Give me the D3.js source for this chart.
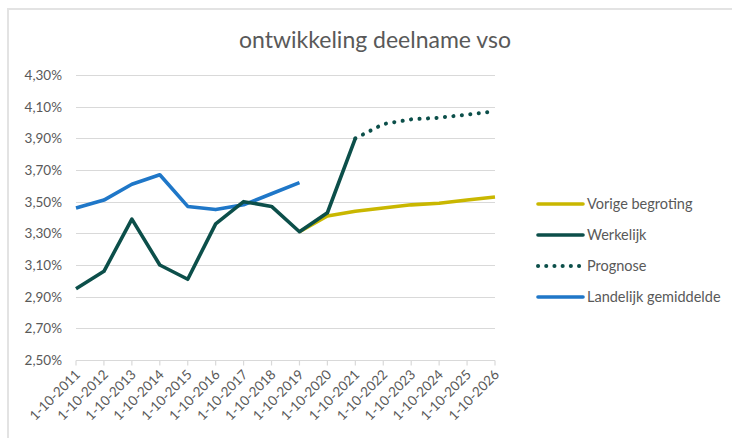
<!DOCTYPE html>
<html>
<head>
<meta charset="utf-8">
<script src="https://cdn.jsdelivr.net/npm/d3@7"></script>
<style>
  body { margin: 0; background: #fff; }
  svg { display: block; font-family: Lato, "Noto Sans", sans-serif; }
</style>
</head>
<body>
<div id="chart"></div>
<script>
// categories (peildatum)
var years = ["1-10-2011","1-10-2012","1-10-2013","1-10-2014","1-10-2015","1-10-2016","1-10-2017","1-10-2018",
             "1-10-2019","1-10-2020","1-10-2021","1-10-2022","1-10-2023","1-10-2024","1-10-2025","1-10-2026"];

// series (percentages), null = no value
var werkelijk = [2.95, 3.06, 3.39, 3.10, 3.01, 3.36, 3.50, 3.47, 3.31, 3.43, 3.90, null, null, null, null, null];
var prognose = [null, null, null, null, null, null, null, null, null, null, 3.90, 3.99, 4.02, 4.03, 4.05, 4.07];
var vorigeBegroting = [null, null, null, null, null, null, null, null, 3.31, 3.41, 3.44, 3.46, 3.48, 3.49, 3.51, 3.53];
var landelijk = [3.46, 3.51, 3.61, 3.67, 3.47, 3.45, 3.48, 3.55, 3.62, null, null, null, null, null, null, null];

var yTicks = [2.5, 2.7, 2.9, 3.1, 3.3, 3.5, 3.7, 3.9, 4.1, 4.3];

var W = 732, H = 438;
var margin = {top: 75, left: 76, right: 237, bottom: 78};

var svg = d3.select("#chart").append("svg")
    .attr("width", W)
    .attr("height", H);

// chart area border (top + left visible)
svg.append("path")
    .attr("d", "M8," + H + "V9H" + W)
    .attr("fill", "none")
    .attr("stroke", "#e3e3e3")
    .attr("stroke-width", 2);

svg.append("text")
    .attr("x", 375)
    .attr("y", 48)
    .attr("text-anchor", "middle")
    .attr("fill", "#595959")
    .attr("font-size", 23)
    .text("ontwikkeling deelname vso");

var x = d3.scalePoint().domain(years).range([margin.left, W - margin.right]);
var y = d3.scaleLinear().domain([2.5, 4.3]).range([H - margin.bottom, margin.top]);

// gridlines
svg.append("g").selectAll("line")
    .data(yTicks)
    .join("line")
    .attr("x1", margin.left)
    .attr("x2", W - margin.right)
    .attr("y1", d => Math.round(y(d)) + 0.5)
    .attr("y2", d => Math.round(y(d)) + 0.5)
    .attr("stroke", "#d9d9d9")
    .attr("stroke-width", 1.2);

// y labels
svg.append("g").selectAll("text")
    .data(yTicks)
    .join("text")
    .attr("x", 62)
    .attr("y", d => y(d) + 5)
    .attr("text-anchor", "end")
    .attr("fill", "#595959")
    .attr("font-size", 13.5)
    .text(d => d.toFixed(2).replace(".", ",") + "%");

// x axis ticks
var base = Math.round(y(2.5)) + 0.5;
svg.append("g").selectAll("line")
    .data(years)
    .join("line")
    .attr("x1", d => x(d))
    .attr("x2", d => x(d))
    .attr("y1", base)
    .attr("y2", base + 5)
    .attr("stroke", "#d9d9d9")
    .attr("stroke-width", 1.2);

svg.append("g").selectAll("text")
    .data(years)
    .join("text")
    .attr("transform", d => "translate(" + (x(d) + 5) + "," + (base + 15) + ") rotate(-45)")
    .attr("text-anchor", "end")
    .attr("fill", "#595959")
    .attr("font-size", 13.5)
    .text(d => d);

var line = d3.line()
    .defined(d => d.v != null)
    .x(d => x(d.k))
    .y(d => y(d.v));

function pts(arr) { return arr.map((v, i) => ({k: years[i], v: v})); }

var series = [
  {name: "Vorige begroting", data: vorigeBegroting, color: "#c9b700", dash: null},
  {name: "Landelijk gemiddelde", data: landelijk, color: "#1f77c8", dash: null},
  {name: "Werkelijk", data: werkelijk, color: "#0c4f4a", dash: null},
  {name: "Prognose", data: prognose, color: "#0c4f4a", dash: "0.1 8.4"}
];

svg.append("g").selectAll("path")
    .data(series)
    .join("path")
    .attr("d", s => line(pts(s.data)))
    .attr("fill", "none")
    .attr("stroke", s => s.color)
    .attr("stroke-width", s => s.dash ? 4 : 3.6)
    .attr("stroke-dasharray", s => s.dash)
    .attr("stroke-linecap", s => s.dash ? "round" : "butt")
    .attr("stroke-linejoin", "round");

// legend
var legendItems = [series[0], series[2], series[3], series[1]];
var lg = svg.append("g").selectAll("g")
    .data(legendItems)
    .join("g")
    .attr("transform", (d, i) => "translate(536," + (204 + i * 31) + ")");

lg.append("line")
    .attr("x1", 2).attr("x2", 47)
    .attr("stroke", d => d.color)
    .attr("stroke-width", d => d.dash ? 4 : 3.6)
    .attr("stroke-dasharray", d => d.dash ? "0.1 8.1" : null)
    .attr("stroke-linecap", "round");

lg.append("text")
    .attr("x", 51)
    .attr("y", 5)
    .attr("fill", "#595959")
    .attr("font-size", 14.5)
    .text(d => d.name);
</script>
</body>
</html>
